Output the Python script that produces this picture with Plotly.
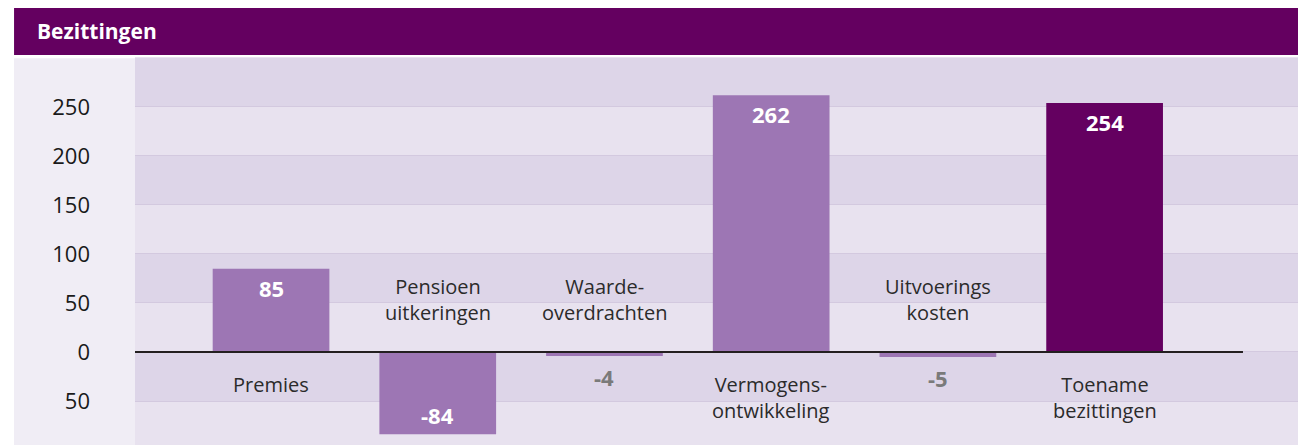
import plotly.graph_objects as go

CATEGORIES = [
    "Premies",
    "Pensioen<br>uitkeringen",
    "Waarde-<br>overdrachten",
    "Vermogens-<br>ontwikkeling",
    "Uitvoerings<br>kosten",
    "Toename<br>bezittingen",
]
VALUES = [85, -84, -4, 262, -5, 254]
IS_TOTAL = [False, False, False, False, False, True]

TICK_VALS = [-50, 0, 50, 100, 150, 200, 250]
TICK_TEXT = ["50", "0", "50", "100", "150", "200", "250"]
BAND_EDGES = [-100, -50, 0, 50, 100, 150, 200, 250, 300, 350]

PURPLE_DARK = "#640060"
PURPLE_LIGHT = "#9d76b4"
BAND_DARK = "#ddd5e8"
BAND_LIGHT = "#e8e2ef"
PANEL = "#f0edf5"
FONT = "Open Sans"

X_RANGE = [-0.816, 6.16]
Y_RANGE = [-94.9, 301]

fig = go.Figure()

fig.add_trace(
    go.Bar(
        x=list(range(len(VALUES))),
        y=VALUES,
        marker=dict(
            color=[PURPLE_DARK if t else PURPLE_LIGHT for t in IS_TOTAL],
            line=dict(width=0),
        ),
        hoverinfo="skip",
    )
)

shapes = []
# alternating horizontal bands
for i in range(len(BAND_EDGES) - 1):
    shapes.append(
        dict(
            type="rect", xref="paper", yref="y",
            x0=0, x1=1, y0=BAND_EDGES[i], y1=BAND_EDGES[i + 1],
            fillcolor=BAND_DARK if i % 2 == 1 else BAND_LIGHT,
            line=dict(width=0), layer="below",
        )
    )
# left tick panel
shapes.append(
    dict(
        type="rect", xref="paper", yref="paper",
        x0=-0.104, x1=0, y0=0, y1=0.997,
        fillcolor=PANEL, line=dict(width=0), layer="below",
    )
)
# header bar
shapes.append(
    dict(
        type="rect", xref="paper", yref="paper",
        x0=-0.104, x1=1, y0=1.005, y1=1.126,
        fillcolor=PURPLE_DARK, line=dict(width=0), layer="below",
    )
)
# zero line
shapes.append(
    dict(
        type="line", xref="x", yref="y",
        x0=X_RANGE[0], x1=5.83, y0=0, y1=0,
        line=dict(color="#231f20", width=2), layer="above",
    )
)

annotations = [
    dict(
        text="<b>Bezittingen</b>", xref="paper", yref="paper",
        x=-0.086, y=1.066, xanchor="left", yanchor="middle",
        showarrow=False, font=dict(family=FONT, size=21, color="white"),
    )
]

for i, (cat, v) in enumerate(zip(CATEGORIES, VALUES)):
    # value labels
    if v > 0:
        annotations.append(
            dict(text=f"<b>{v}</b>", x=i, y=v, yanchor="top", yshift=-2,
                 showarrow=False, font=dict(family=FONT, size=22, color="white"))
        )
    elif abs(v) > 20:
        annotations.append(
            dict(text=f"<b>{v}</b>", x=i, y=v, yanchor="bottom", yshift=2,
                 showarrow=False, font=dict(family=FONT, size=22, color="white"))
        )
    else:
        annotations.append(
            dict(text=f"<b>{v}</b>", x=i, y=v, yanchor="top", yshift=-4,
                 showarrow=False, font=dict(family=FONT, size=22, color="#7a7a7a"))
        )
    # category labels on the opposite side of the zero line
    annotations.append(
        dict(
            text=cat, x=i, y=0,
            yanchor="top" if v > 0 else "bottom",
            yshift=-17 if v > 0 else 24,
            showarrow=False,
            font=dict(family=FONT, size=20, color="#2b2b2b"),
        )
    )

fig.update_layout(
    width=1298,
    height=445,
    margin=dict(l=135, r=0, t=57, b=0),
    paper_bgcolor="white",
    plot_bgcolor=BAND_LIGHT,
    showlegend=False,
    bargap=0.3,
    shapes=shapes,
    annotations=annotations,
    xaxis=dict(
        range=X_RANGE, showticklabels=False, showgrid=False,
        zeroline=False, fixedrange=True,
    ),
    yaxis=dict(
        range=Y_RANGE, tickvals=TICK_VALS, ticktext=TICK_TEXT,
        showgrid=True, gridcolor="#d3c9df", gridwidth=1,
        zeroline=False, ticks="", ticklabelstandoff=44,
        tickfont=dict(family=FONT, size=22, color="#1a1a1a"),
        fixedrange=True,
    ),
)

fig.write_html(
    "out.html",
    config={"displayModeBar": False},
    post_script="document.body.style.margin='0';",
)
